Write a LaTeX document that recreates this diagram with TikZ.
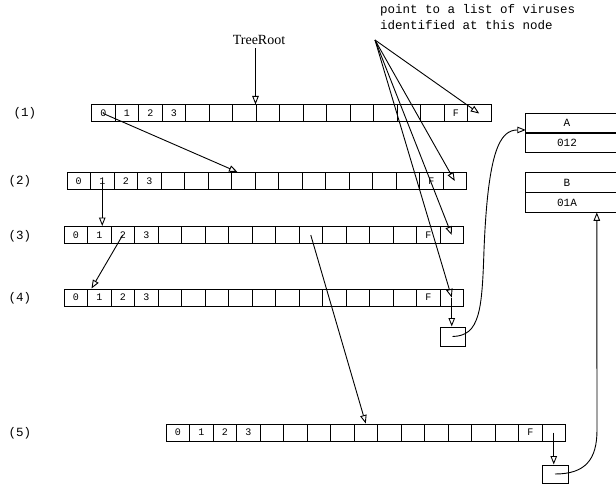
\documentclass[tikz,border=0pt]{standalone}
\usepackage{fontspec}
\setmainfont{Liberation Serif}
\setmonofont{Liberation Mono}
\usetikzlibrary{arrows.meta,positioning,calc}
\tikzset{
    cell/.style={rectangle, draw, line width=1pt, minimum width=23.5pt, minimum height=17pt, inner sep=0pt, font=\fontsize{10}{10}\ttfamily},
    rowlabel/.style={font=\fontsize{12.5}{12.5}\ttfamily},
    listbox/.style={rectangle, draw, line width=1pt, minimum width=25pt, minimum height=19pt, inner sep=0pt},
    headcell/.style={rectangle, minimum width=82pt, minimum height=19.5pt, inner sep=0pt, font=\fontsize{11}{11}\ttfamily},
    wire/.style={line width=1pt},
    link/.style={line width=0.9pt, -{Triangle[open,length=8.5pt,width=6.5pt]}},
}
\newcommand{\cellrow}{0/0,1/1,2/2,3/3,4/{},5/{},6/{},7/{},8/{},9/{},10/{},11/{},12/{},13/{},14/{},15/F,16/{}}

\begin{document}
\begin{tikzpicture}[x=1pt, y=-1pt]
    \useasboundingbox (0,0) rectangle (616,484);

    % levels of the tree
    \foreach \r/\x/\y in {1/91.5/113.5, 2/67/181, 3/64/235, 4/64/297.5, 5/166/432.5} {
        \foreach \i/\t in \cellrow {
            \node[cell] (r\r-\i) at ({\x+23.5*\i+11.75}, \y) {\t};
        }
    }
    \foreach \r/\x/\y in {1/25/113, 2/20/181, 3/20/236, 4/20/298, 5/20/433}
        \node[rowlabel] (lab\r) at (\x,\y) {(\r)};

    % root pointer
    \node[font=\fontsize{14}{14}\selectfont] (treeroot) at (259,40) {TreeRoot};
    \draw[link] (treeroot.south -| r1-7.north west) -- (r1-7.north west);

    % child pointers
    \draw[link] (r1-0.center) -- ([xshift=6.5pt]r2-7.north west);
    \draw[link] (r2-1.center) -- (r2-1.center |- r3-1.north);
    \draw[link] (r3-2.center) -- ([xshift=4.5pt]r4-1.north west);
    \draw[link] (r3-10.center) -- (r5-8.north);

    % note on the last cells
    \node[font=\fontsize{12.5}{16}\ttfamily, align=left, anchor=north west, inner sep=0pt] (note) at (380,4)
        {point to a list of viruses\\identified at this node};
    \coordinate (fan) at (375,40);
    \foreach \r in {1,...,4}
        \draw[link] (fan) -- (r\r-16.center);

    % virus lists
    \node[listbox] (lst4) at (452.5,336.5) {};
    \node[listbox, minimum width=26pt, minimum height=18pt] (lst5) at (555,474) {};
    \draw[link] (r4-16.center) -- (r4-16.center |- lst4.north);
    \draw[link] (r5-16.center) -- (r5-16.center |- lst5.north);

    % virus records
    \node[headcell] (ahead) at (567,123) {A};
    \node[headcell, below=0pt of ahead] (aval) {012};
    \draw[wire] ([xshift=30pt]ahead.north east) -- (ahead.north west) -- (aval.south west) -- ([xshift=30pt]aval.south east);
    \draw[line width=1.8pt] (ahead.south west) -- ([xshift=30pt]ahead.south east);

    \node[headcell] (bhead) at (567,182.5) {B};
    \node[headcell, below=0pt of bhead] (bval) {01A};
    \draw[wire] ([xshift=30pt]bhead.north east) -- (bhead.north west) -- (bval.south west) -- ([xshift=30pt]bval.south east);
    \draw[line width=1.8pt] (bhead.south west) -- ([xshift=30pt]bhead.south east);

    \draw[link] (lst4.center) .. controls (480,336) and (482,310) .. (484,250)
        .. controls (488,150) and (500,130) .. ([yshift=3pt]ahead.south west);
    \draw[link] (lst5.center) .. controls (585,474) and (597,460) .. (597,430) -- ([xshift=71pt]bval.south west);
\end{tikzpicture}
\end{document}
